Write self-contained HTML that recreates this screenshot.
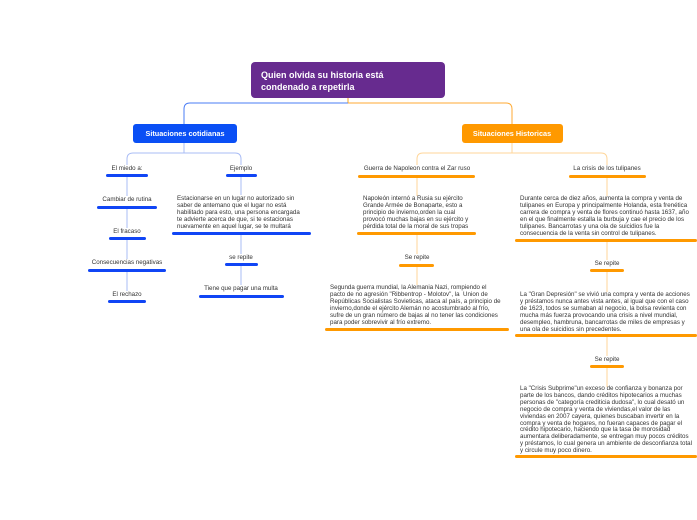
<!DOCTYPE html>
<html><head><meta charset="utf-8"><style>
body{margin:0;width:697px;height:520px;background:#fff;position:relative;overflow:hidden;font-family:"Liberation Sans",sans-serif;}
.t{position:absolute;font-size:6.2px;line-height:6.9px;color:#333;white-space:nowrap;}
.c{text-align:center;transform:translateX(-50%);}
.u{position:absolute;height:3px;border-radius:2px;}
.b{background:#1045f5;}
.o{background:#ff9900;}
svg{position:absolute;left:0;top:0;}
</style></head><body>
<svg width="697" height="520">
<g fill="none" stroke-width="1">
<path d="M348 98 V103" stroke="#f5a623"/>
<path d="M348 103 H190 Q184 103 184 109 V124" stroke="#4a7cf5"/>
<path d="M348 103 H506 Q512 103 512 109 V124" stroke="#ffaa33"/>
<path d="M184 143 V153 M133 153 H235 M127 165 V159 Q127 153 133 153 M235 153 Q241 153 241 159 V165" stroke="#a9bcf5"/>
<path d="M127 176 V196 M127 208 V228 M127 239 V259 M127 271 V291" stroke="#a9bcf5"/>
<path d="M241 176 V195 M241 234 V254 M241 265 V285" stroke="#a9bcf5"/>
<path d="M512 143 V153 M423 153 H601 M417 165 V159 Q417 153 423 153 M601 153 Q607 153 607 159 V165" stroke="#ffd699"/>
<path d="M417 177 V196 M417 234 V254 M417 266 V285" stroke="#ffd699"/>
<path d="M607 177 V196 M607 241 V260 M607 271 V292 M607 336 V356 M607 367 V387" stroke="#ffd699"/>
</g>
</svg>
<div style="position:absolute;left:251px;top:62px;width:194px;height:36px;background:#672b8f;border-radius:4px;"></div>
<div class="t" style="left:261px;top:70px;font-size:9px;line-height:11.5px;color:#fff;font-weight:bold;">Quien olvida su historia está<br>condenado a repetirla</div>
<div style="position:absolute;left:133px;top:124px;width:104px;height:19px;background:#0a4ff5;border-radius:3px;"></div>
<div class="t c" style="left:185px;top:129px;font-size:7.3px;line-height:9px;color:#fff;font-weight:bold;">Situaciones cotidianas</div>
<div style="position:absolute;left:462px;top:124px;width:101px;height:19px;background:#ff9900;border-radius:3px;"></div>
<div class="t c" style="left:512px;top:129px;font-size:7.3px;line-height:9px;color:#fff;font-weight:bold;">Situaciones Historicas</div>

<div class="t c" style="left:127px;top:166px;">El miedo a:</div><div class="u b" style="left:106px;top:174px;width:42px;"></div>
<div class="t c" style="left:127px;top:197px;">Cambiar de rutina</div><div class="u b" style="left:97px;top:206px;width:60px;"></div>
<div class="t c" style="left:127px;top:229px;">El fracaso</div><div class="u b" style="left:109px;top:237px;width:37px;"></div>
<div class="t c" style="left:127px;top:260px;">Consecuencias negativas</div><div class="u b" style="left:88px;top:269px;width:78px;"></div>
<div class="t c" style="left:127px;top:292px;">El rechazo</div><div class="u b" style="left:108px;top:300px;width:38px;"></div>

<div class="t c" style="left:241px;top:166px;">Ejemplo</div><div class="u b" style="left:226px;top:174px;width:31px;"></div>
<div class="t" style="left:177px;top:196px;">Estacionarse en un lugar no autorizado sin<br>saber de antemano que el lugar no está<br>habilitado para esto, una persona encargada<br>te advierte acerca de que, si te estacionas<br>nuevamente en aquel lugar, se te multará</div>
<div class="u b" style="left:172px;top:232px;width:139px;"></div>
<div class="t c" style="left:241px;top:255px;">se repite</div><div class="u b" style="left:225px;top:263px;width:33px;"></div>
<div class="t c" style="left:241px;top:286px;">Tiene que pagar una multa</div><div class="u b" style="left:199px;top:295px;width:85px;"></div>

<div class="t c" style="left:417px;top:166px;">Guerra de Napoleon contra el Zar ruso</div><div class="u o" style="left:358px;top:175px;width:117px;"></div>
<div class="t" style="left:363px;top:196px;">Napoleón internó a Rusia su ejército<br>Grande Armée de Bonaparte, esto a<br>principio de invierno,orden la cual<br>provocó muchas bajas en su ejército y<br>pérdida total de la moral de sus tropas</div>
<div class="u o" style="left:357px;top:232px;width:119px;"></div>
<div class="t c" style="left:417px;top:255px;">Se repite</div><div class="u o" style="left:399px;top:264px;width:35px;"></div>
<div class="t" style="left:330px;top:285px;">Segunda guerra mundial, la Alemania Nazi, rompiendo el<br>pacto de no agresión "Ribbentrop - Molotov", la&nbsp; Union de<br>Repúblicas Socialistas Sovieticas, ataca al país, a principio de<br>invierno,donde el ejército Alemán no acostumbrado al frío,<br>sufre de un gran número de bajas al no tener las condiciones<br>para poder sobrevivir al frío extremo.</div>
<div class="u o" style="left:325px;top:328px;width:184px;"></div>

<div class="t c" style="left:607px;top:166px;">La crisis de los tulipanes</div><div class="u o" style="left:569px;top:175px;width:77px;"></div>
<div class="t" style="left:520px;top:196px;">Durante cerca de diez años, aumenta la compra y venta de<br>tulipanes en Europa y principalmente Holanda, esta frenética<br>carrera de compra y venta de flores continuó hasta 1637, año<br>en el que finalmente estalla la burbuja y cae el precio de los<br>tulipanes. Bancarrotas y una ola de suicidios fue la<br>consecuencia de la venta sin control de tulipanes.</div>
<div class="u o" style="left:515px;top:239px;width:182px;"></div>
<div class="t c" style="left:607px;top:261px;">Se repite</div><div class="u o" style="left:590px;top:269px;width:34px;"></div>
<div class="t" style="left:520px;top:292px;">La "Gran Depresión" se vivió una compra y venta de acciones<br>y préstamos nunca antes vista antes, al igual que con el caso<br>de 1623, todos se sumaban al negocio, la bolsa revienta con<br>mucha más fuerza provocando una crisis a nivel mundial,<br>desempleo, hambruna, bancarrotas de miles de empresas y<br>una ola de suicidios sin precedentes.</div>
<div class="u o" style="left:515px;top:334px;width:182px;"></div>
<div class="t c" style="left:607px;top:357px;">Se repite</div><div class="u o" style="left:590px;top:365px;width:34px;"></div>
<div class="t" style="left:520px;top:386px;">La "Crisis Subprime"un exceso de confianza y bonanza por<br>parte de los bancos, dando créditos hipotecarios a muchas<br>personas de "categoría crediticia dudosa", lo cual desató un<br>negocio de compra y venta de viviendas,el valor de las<br>viviendas en 2007 cayera, quienes buscaban invertir en la<br>compra y venta de hogares, no fueran capaces de pagar el<br>crédito hipotecario, haciendo que la tasa de morosidad<br>aumentara deliberadamente, se entregan muy pocos créditos<br>y préstamos, lo cual genera un ambiente de desconfianza total<br>y circule muy poco dinero.</div>
<div class="u o" style="left:515px;top:455px;width:182px;"></div>
</body></html>
